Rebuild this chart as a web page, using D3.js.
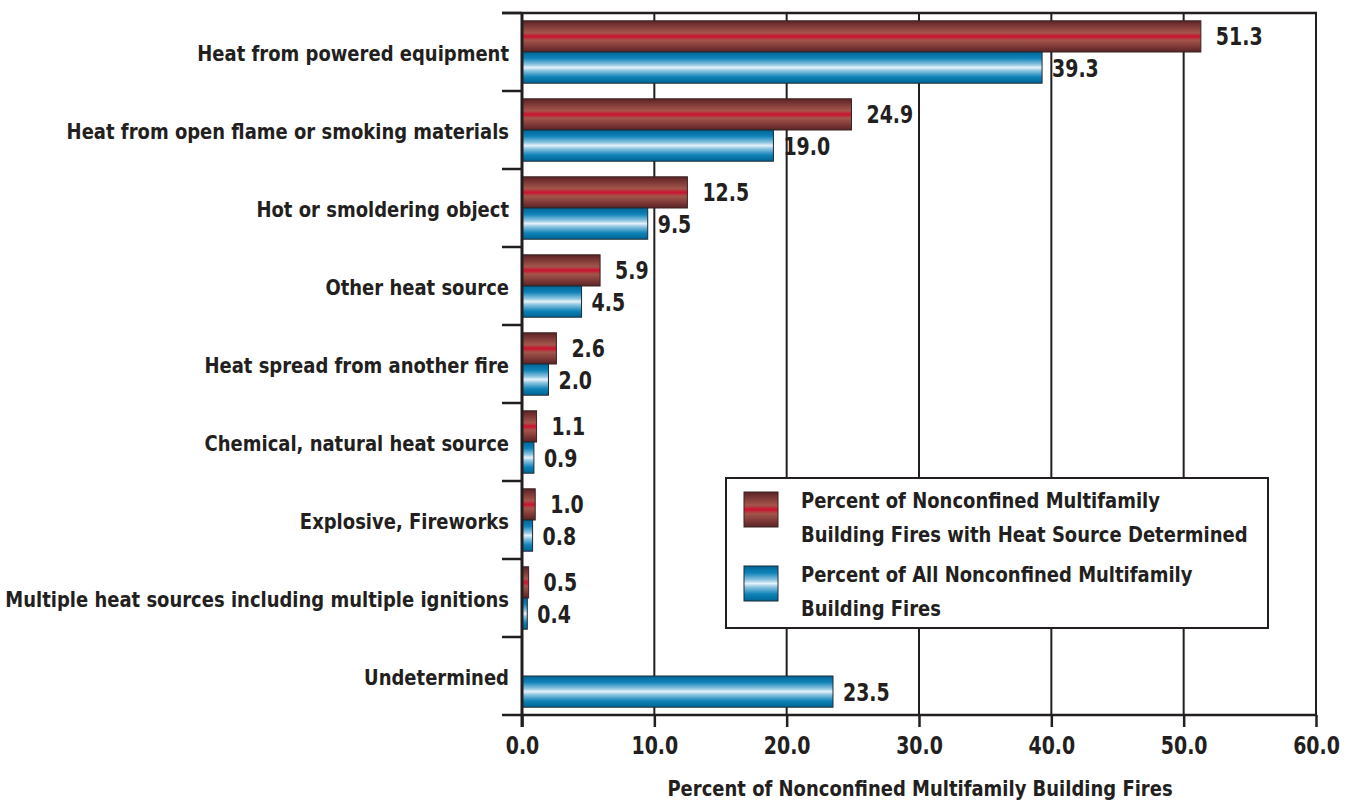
<!DOCTYPE html>
<html>
<head>
<meta charset="utf-8">
<script src="https://cdn.jsdelivr.net/npm/d3@7"></script>
<style>
  body { margin: 0; background: #fff; }
  text { font-family: "Liberation Sans Narrow", "DejaVu Sans Condensed", sans-serif; font-weight: bold; fill: #231f20; }
</style>
</head>
<body>
<div id="chart"></div>
<script>
var categories = [
  "Heat from powered equipment",
  "Heat from open flame or smoking materials",
  "Hot or smoldering object",
  "Other heat source",
  "Heat spread from another fire",
  "Chemical, natural heat source",
  "Explosive, Fireworks",
  "Multiple heat sources including multiple ignitions",
  "Undetermined"
];
var determined = [51.3, 24.9, 12.5, 5.9, 2.6, 1.1, 1.0, 0.5, null];
var allFires = [39.3, 19.0, 9.5, 4.5, 2.0, 0.9, 0.8, 0.4, 23.5];
var xTicks = [0, 10, 20, 30, 40, 50, 60];
var seriesNames = [
  ["Percent of Nonconfined Multifamily", "Building Fires with Heat Source Determined"],
  ["Percent of All Nonconfined Multifamily", "Building Fires"]
];
var xTitle = "Percent of Nonconfined Multifamily Building Fires";

var W = 1348, H = 800;
var plotLeft = 522, plotRight = 1316, plotTop = 13, plotBottom = 715;
var ink = "#231f20";

var svg = d3.select("#chart").append("svg")
    .attr("width", W)
    .attr("height", H);

// condensed text: squeeze horizontally to mimic the narrow face
function ctext(sel, x0, y0, sx) {
  return sel.attr("transform", "translate(" + x0 + "," + y0 + ") scale(" + sx + ",1)");
}

var defs = svg.append("defs");
var redGrad = defs.append("linearGradient").attr("id", "gRed")
    .attr("x1", 0).attr("y1", 0).attr("x2", 0).attr("y2", 1);
[[0, "#5a2224"], [0.18, "#7f3a38"], [0.38, "#a3564b"], [0.5, "#cc1230"], [0.62, "#a3564b"], [0.82, "#7f3a38"], [1, "#5a2224"]]
  .forEach(function (s) { redGrad.append("stop").attr("offset", s[0]).attr("stop-color", s[1]); });
var blueGrad = defs.append("linearGradient").attr("id", "gBlue")
    .attr("x1", 0).attr("y1", 0).attr("x2", 0).attr("y2", 1);
[[0, "#006596"], [0.2, "#0f83b8"], [0.4, "#8cc4e0"], [0.5, "#e4f2fa"], [0.6, "#8cc4e0"], [0.8, "#0f83b8"], [1, "#006596"]]
  .forEach(function (s) { blueGrad.append("stop").attr("offset", s[0]).attr("stop-color", s[1]); });

var x = d3.scaleLinear().domain([0, 60]).range([plotLeft, plotRight]);
var y = d3.scaleBand().domain(categories).range([plotTop, plotBottom]);
var inner = d3.scaleBand().domain(["det", "all"]).range([0, y.bandwidth()]).paddingOuter(0.25);

// grid lines
svg.append("g").selectAll("line")
  .data(xTicks.slice(1))
  .join("line")
    .attr("x1", function (d) { return x(d); })
    .attr("x2", function (d) { return x(d); })
    .attr("y1", plotTop).attr("y2", plotBottom)
    .attr("stroke", ink).attr("stroke-width", 2);

// top frame line
svg.append("line").attr("x1", 502).attr("x2", plotRight + 1)
    .attr("y1", plotTop).attr("y2", plotTop)
    .attr("stroke", ink).attr("stroke-width", 2.5);

// category boundary ticks
svg.append("g").selectAll("line")
  .data(categories)
  .join("line")
    .attr("x1", 502).attr("x2", plotLeft)
    .attr("y1", function (d) { return y(d); })
    .attr("y2", function (d) { return y(d); })
    .attr("stroke", ink).attr("stroke-width", 2.5);

// bars
var rows = categories.map(function (c, i) { return { cat: c, det: determined[i], all: allFires[i] }; });

var g = svg.append("g");
g.selectAll("rect.det")
  .data(rows.filter(function (d) { return d.det != null; }))
  .join("rect").attr("class", "det")
    .attr("x", x(0))
    .attr("y", function (d) { return y(d.cat) + inner("det"); })
    .attr("width", function (d) { return x(d.det) - x(0); })
    .attr("height", inner.bandwidth())
    .attr("fill", "url(#gRed)")
    .attr("stroke", "#3a2425").attr("stroke-width", 1);
g.selectAll("rect.all")
  .data(rows)
  .join("rect").attr("class", "all")
    .attr("x", x(0))
    .attr("y", function (d) { return y(d.cat) + inner("all"); })
    .attr("width", function (d) { return x(d.all) - x(0); })
    .attr("height", inner.bandwidth())
    .attr("fill", "url(#gBlue)")
    .attr("stroke", "#1e2a33").attr("stroke-width", 1);

// value labels
g.selectAll("text.det")
  .data(rows.filter(function (d) { return d.det != null; }))
  .join("text").attr("class", "det")
    .each(function (d) {
      ctext(d3.select(this), x(d.det) + 15, y(d.cat) + inner("det") + inner.bandwidth() / 2 + 9, 0.86);
    })
    .attr("font-size", 24.5)
    .text(function (d) { return d.det.toFixed(1); });
g.selectAll("text.all")
  .data(rows)
  .join("text").attr("class", "all")
    .each(function (d) {
      ctext(d3.select(this), x(d.all) + 10, y(d.cat) + inner("all") + inner.bandwidth() / 2 + 9, 0.86);
    })
    .attr("font-size", 24.5)
    .text(function (d) { return d.all.toFixed(1); });

// category labels
svg.append("g").selectAll("text")
  .data(categories)
  .join("text")
    .each(function (d) {
      ctext(d3.select(this), 509, y(d) + y.bandwidth() / 2 + 9, 0.93);
    })
    .attr("text-anchor", "end")
    .attr("font-size", 21.5)
    .text(function (d) { return d; });

// y axis line
svg.append("line").attr("x1", plotLeft).attr("x2", plotLeft)
    .attr("y1", plotTop - 1).attr("y2", plotBottom + 12)
    .attr("stroke", ink).attr("stroke-width", 3);

// x axis
var xAxis = svg.append("g")
    .attr("transform", "translate(0," + plotBottom + ")")
    .call(d3.axisBottom(x).tickValues(xTicks).tickSize(12).tickPadding(6)
      .tickFormat(function (d) { return d.toFixed(1); }));
xAxis.select(".domain").remove();
xAxis.append("line").attr("x1", 502).attr("x2", plotRight + 1)
    .attr("y1", 0).attr("y2", 0)
    .attr("stroke", ink).attr("stroke-width", 2.5);
xAxis.selectAll(".tick line").attr("stroke", ink).attr("stroke-width", 2.5);
xAxis.selectAll(".tick text")
    .attr("y", null).attr("dy", null)
    .attr("transform", "translate(0,39) scale(0.86,1)")
    .attr("font-size", 24.5)
    .attr("font-family", "Liberation Sans Narrow, DejaVu Sans Condensed, sans-serif")
    .attr("font-weight", "bold")
    .attr("fill", ink);

ctext(svg.append("text"), (plotLeft + plotRight) / 2 + 1, 796, 0.93)
    .attr("text-anchor", "middle")
    .attr("font-size", 21.5)
    .text(xTitle);

// legend
var lg = svg.append("g").attr("transform", "translate(726,478)");
lg.append("rect").attr("width", 542).attr("height", 150)
    .attr("fill", "#fff").attr("stroke", ink).attr("stroke-width", 2);
var fills = ["url(#gRed)", "url(#gBlue)"];
var strokes = ["#3a2425", "#1e2a33"];
seriesNames.forEach(function (lines, i) {
  var oy = 14 + i * 74;
  lg.append("rect").attr("x", 18).attr("y", oy)
      .attr("width", 34).attr("height", 35)
      .attr("fill", fills[i]).attr("stroke", strokes[i]).attr("stroke-width", 1);
  lines.forEach(function (t, j) {
    ctext(lg.append("text"), 75, oy + 16 + j * 34, 0.93)
        .attr("font-size", 21.5)
        .text(t);
  });
});
</script>
</body>
</html>
